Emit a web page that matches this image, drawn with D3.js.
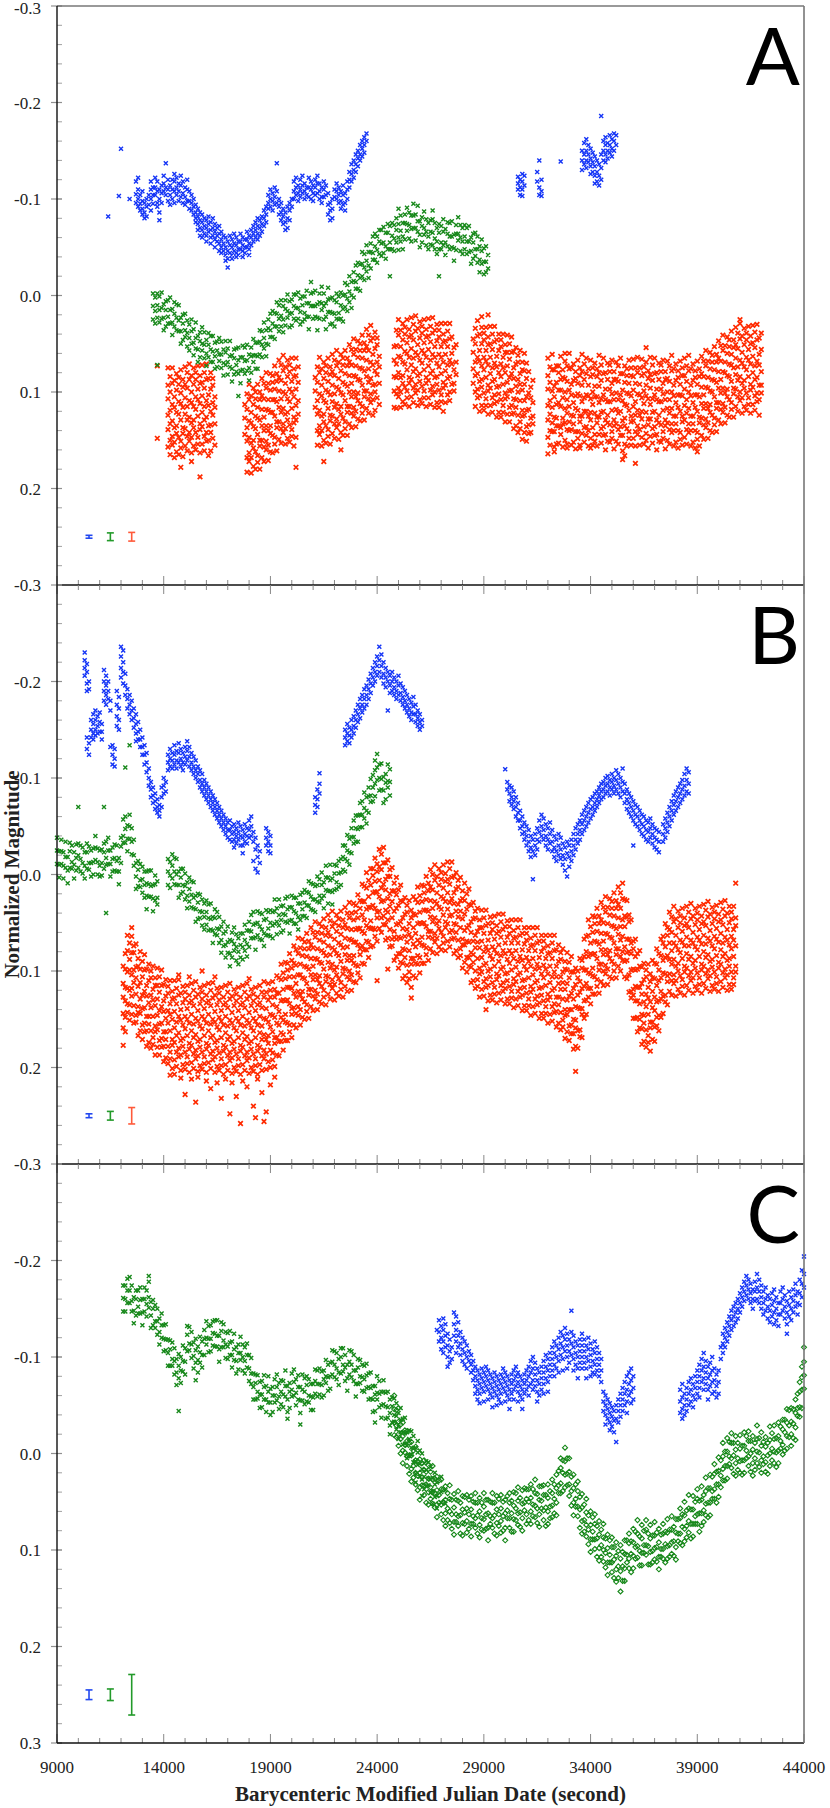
<!DOCTYPE html>
<html>
<head>
<meta charset="utf-8">
<script src="https://cdn.jsdelivr.net/npm/d3@7"></script>
<style>
  body { margin: 0; background: #fff; }
  svg { display: block; }
</style>
</head>
<body>
<div id="chart-area"></div>
<script>
// axis ticks
const timeTicks = [9000, 14000, 19000, 24000, 29000, 34000, 39000, 44000];
const magTicks = [-0.3, -0.2, -0.1, 0.0, 0.1, 0.2, 0.3];
const panelLetters = ["A", "B", "C"];

// every row: [time / 100 s, magnitude * 1000, magnitude * 1000, ...]
const blueA = [[114,-82],[119,-103],[120,-152],[124,-100],
[127,-118,-105,-96],[128,-122,-110,-100,-92],[129,-104,-95,-88],[130,-108,-98,-90,-84],[131,-96,-86,-80],[132,-100,-92,-82],[133,-104,-94],[134,-118,-110,-100,-88],[135,-112,-104,-95],
[136,-122,-112,-104],[137,-118,-108,-96,-92],[138,-110,-100,-86,-78],[139,-114,-106,-96],[140,-124,-116,-108],[141,-137,-112,-104],[142,-120,-110,-98],[143,-114,-104,-94],
[144,-120,-110,-100],[145,-126,-118,-108,-96],[146,-122,-112,-104],[147,-116,-108,-98],[148,-124,-114,-102],[149,-118,-106,-96],[150,-112,-102,-94],[151,-120,-110,-98],[152,-108,-98,-90],[153,-104,-96,-88],[154,-100,-92,-84],
[155,-94,-86,-80,-76],[156,-90,-82,-74,-68],[157,-86,-78,-70,-62],[158,-84,-76,-68,-60],[159,-80,-72,-64],[160,-78,-70,-62,-56],[161,-82,-74,-66],[162,-76,-68,-60,-54],[163,-80,-70,-62],[164,-74,-66,-58,-50],[165,-70,-62,-56],[166,-72,-64,-54,-46],[167,-66,-58,-50,-44],[168,-62,-54,-46],
[169,-60,-50,-42,-36],[170,-56,-46,-38,-29],[171,-62,-52,-44],[172,-58,-50,-42,-38],[173,-64,-54,-46],[174,-60,-52,-44,-40],[175,-56,-48,-42],[176,-64,-56,-48],[177,-60,-52,-46,-40],[178,-58,-50,-44],[179,-66,-58,-50],[180,-62,-54,-48,-42],[181,-68,-60,-52],[182,-72,-64,-56],
[183,-76,-68,-60],[184,-80,-72,-64,-58],[185,-78,-70,-62],[186,-82,-74,-66],[187,-88,-80,-72],[188,-92,-84,-76],
[189,-104,-96,-90],[190,-110,-100,-92],[191,-106,-98,-88],[192,-112,-102,-94],[193,-137,-108,-96],[194,-100,-92,-84],[195,-96,-86,-78],
[196,-90,-82,-74],[197,-86,-76,-68],[198,-92,-80,-70],[199,-96,-88,-78],[200,-100,-92],
[201,-118,-108,-100],[202,-122,-112,-104],[203,-114,-106,-98],[204,-120,-110,-102],[205,-124,-114,-106],[206,-116,-108,-100],[207,-112,-104],[208,-122,-112,-102],[209,-118,-110,-100],[210,-114,-106,-98],[211,-120,-112,-104],[212,-124,-116,-106],[213,-116,-108,-100],[214,-112,-102,-96],[215,-118,-110,-102],[216,-114,-104],[217,-106,-94,-84],[218,-96,-88,-78],[219,-100,-90,-80],[220,-110,-102],[221,-116,-108,-100],[222,-112,-104,-96],
[223,-108,-98,-90],[224,-114,-104,-94],[225,-106,-96,-88],[226,-118,-110,-100],
[227,-128,-120,-112],[228,-136,-126,-118],[229,-140,-130,-122],[230,-146,-136,-128],[231,-150,-142,-134],[232,-156,-146,-140],[233,-160,-152,-144],[234,-164,-156,-148],[235,-168,-160],
[306,-123,-116,-110],[307,-120,-112,-104],[308,-126,-118,-110,-103],[309,-124,-114],
[315,-128,-118],[316,-140,-112,-104],[317,-120,-108,-103],[326,-139],
[336,-150,-140,-130],[337,-158,-146,-136],[338,-162,-150,-140,-132],[339,-156,-146,-138],[340,-152,-142,-134,-126],[341,-148,-138,-128],[342,-144,-134,-124,-116],[343,-140,-128,-118],[344,-136,-124,-114],[345,-186,-146,-132,-120],[346,-160,-150,-140],[347,-164,-156,-146,-138],[348,-158,-150,-142],[349,-166,-156,-148],[350,-162,-152,-144],[351,-168,-160,-150],[352,-166,-156]];

const greenA = [[135,-2,11,25],[136,2,16,29],[137,-2,10,23,72],[138,1,15,28],[139,-3,13,24],[140,9,23,36],[141,6,15,32],[142,5,22,29],[143,2,15,29],[144,14,28,41],[145,7,19,32],[146,9,23,36],[147,10,26,37],[148,23,37,50],[149,20,29,46],[150,19,36,43],
[151,26,39,53],[152,30,44,57],[153,25,37,50],[154,35,49,62],[155,28,44,55],[156,42,56,69],[157,38,47,64],[158,33,50,57],[159,38,51,65],[160,46,60,73],[161,39,51,64],[162,42,56,69],[163,42,58,69],[164,49,63,76],[165,48,57,74],[166,44,61,68],[167,48,61,75],
[168,56,70,83],[169,47,59,72],[170,55,69,82],[171,47,63,74],[172,62,76,89],[173,56,65,82],[174,55,72,79],[175,54,67,81,104],[176,64,78,91],[177,52,64,77],[178,54,68,81],[179,51,67,78],[180,61,75,88],[181,54,63,80],[182,45,62,69],[183,49,62,76],[184,49,63,76],[185,36,48,61],
[186,37,51,64],[187,28,44,55],[188,36,50,63],[189,25,34,51],[190,19,36,43],[191,16,29,43],[192,18,32,45],[193,7,19,32],[194,10,24,37],[195,5,21,32],[196,11,25,38],[197,5,14,31],[198,-1,16,23],[199,6,19,33],[200,4,18,31],[201,-1,11,24],[202,-1,13,26],
[203,-3,13,24],[204,3,17,30],[205,1,10,27],[206,1,18,25],[207,-5,8,22],[208,8,22,35],[209,-14,-2,11],[210,-3,11,24],[211,-5,11,22],[212,9,23,36],[213,-2,7,24],[214,-9,8,15],[215,-2,11,25],[216,8,22,35],[217,-8,4,17],[218,3,17,30],[219,2,18,29],[220,5,19,32],[221,-2,7,24],[222,1,18,25],[223,-3,10,24],[224,0,14,27],
[225,-13,-1,12],[226,-11,3,16],[227,-20,-4,7],[228,-14,0,13],[229,-24,-15,2],[230,-31,-14,-7],[231,-34,-21,-7],[232,-32,-18,-5],[233,-45,-33,-20],[234,-43,-29,-16],[235,-52,-36,-25],[236,-45,-31,-18],[237,-54,-45,-28],
[238,-61,-44,-37],[239,-64,-51,-37],[240,-61,-47,-34],[241,-68,-56,-43],[242,-68,-54,-41],[243,-71,-55,-44],[244,-65,-51,-38],[245,-74,-65,-48],[246,-72,-55,-48,-20],[247,-75,-62,-48],[248,-73,-59,-46],[249,-80,-68,-55],[250,-90,-74,-60,-47],[251,-83,-67,-56],[252,-75,-61,-48],
[253,-84,-75,-58],[254,-91,-74,-67],[255,-86,-73,-59],[256,-83,-69,-56],[257,-95,-83,-70],[258,-84,-70,-57],[259,-93,-77,-66],[260,-77,-63,-50],[261,-81,-72,-55],[262,-87,-70,-63],
[263,-79,-66,-52],[264,-75,-61,-48],[265,-78,-66,-53],[266,-88,-79,-65,-52],[267,-75,-59,-48],[268,-70,-56,-43],[269,-74,-65,-48,-20],[270,-72,-55,-48],[271,-79,-66,-52],[272,-69,-55,-42],[273,-76,-64,-51],[274,-75,-61,-48],[275,-77,-61,-50],[276,-63,-49,-36],[277,-73,-64,-47],[278,-81,-64,-57],[279,-73,-60,-46],[280,-70,-56,-43],[281,-73,-61,-48],[282,-70,-56,-43],
[283,-72,-56,-45],[284,-60,-46,-33],[285,-64,-55,-38],[286,-65,-48,-41],[287,-61,-48,-34],[288,-51,-37,-24],[289,-58,-46,-33],[290,-49,-35,-22],[291,-51,-35,-24],[292,-42,-28]];

const redA = [[137,73,148],
[142,75,93,107,124,139,157],[143,84,100,119,133,150,165],[144,75,91,113,130,146,155],[145,88,105,116,137,152,168],[146,81,98,121,135,143,162],[147,85,92,110,123,147,165],[148,77,101,112,129,151,158,178],[149,87,95,116,137,143,167],[150,74,92,106,123,138,156],[151,80,96,115,129,146,161],[152,71,87,109,126,142,151],[153,83,100,111,132,147,163,172],[154,75,92,115,129,137,156],[155,80,87,105,118,142,160],[156,73,97,108,125,147,154],[157,83,91,112,133,139,163,188],[158,72,90,104,121,136,154],[159,80,96,115,129,146,161],[160,71,87,109,126,142,151],[161,86,103,114,135,150,166],[162,80,97,120,134,142,161],[163,86,93,111,124,148],[164,105,116,133,155],
[178,113,127,144],[179,102,118,137,151,168,183],[180,92,108,130,147,163,172],[181,104,121,132,153,168,184],[182,96,113,136,150,158,177],[183,100,107,125,138,162,180],[184,92,116,127,144,166,173],[185,100,108,129,150,156,180],[186,86,104,118,135,150,168],[187,91,107,126,140,157,172],[188,80,96,118,135,151,160],[189,91,108,119,140,155,171],[190,81,98,121,135,143,162],[191,83,90,108,121,145,163],[192,73,97,108,125,147,154],[193,81,89,110,131,137,161],[194,67,85,99,116,131,149],[195,72,88,107,121,138,153],[196,62,78,100,117,133,142],[197,74,91,102,123,138,154],[198,67,84,107,121,129,148],[199,72,79,97,110,134,152],[200,65,89,100,117,139,146],[201,76,84,105,126,132,156],[202,65,83,97,114,129,147,178],[203,74,90,109,123],
[211,85,99,116],[212,74,90,109,123,140,155],[213,64,80,102,119,135,144],[214,76,93,104,125,140,156],[215,69,86,109,123,131,150,172],[216,73,80,98,111,135,153],[217,65,89,100,117,139,146],[218,74,82,103,124,130,154],[219,61,79,93,110,125,143],[220,67,83,102,116,133,148],[221,57,73,95,112,128,137],[222,69,86,97,118,133,149],[223,61,78,101,115,123,142,160],[224,65,72,90,103,127,145],[225,57,81,92,109,131,138],[226,65,73,94,115,121,145],[227,51,69,83,100,115,133],[228,56,72,91,105,122,137],[229,45,61,83,100,116,125],[230,56,73,84,105,120,136],[231,47,64,87,101,109,128],[232,50,57,75,88,112,130],[233,41,65,76,93,115,122],[234,49,57,78,99,105,129],[235,35,53,67,84,99,117],[236,41,57,76,90,107,122],[237,31,47,69,86,102,111],[238,44,61,72,93,108,124],[239,38,55,78,92,100,119],[240,44,51,69,82,106],[241,63,74,91,113],
[248,53,67,84,99,116],[249,36,52,71,85,102,117],[250,25,41,63,80,96,105],[251,36,53,64,85,100,116],[252,29,46,69,83,91,110],[253,33,40,58,71,95,113],[254,25,49,60,77,99,106],[255,35,43,64,85,91,115],[256,23,41,55,72,87,105],[257,30,46,65,79,96,111],[258,21,37,59,76,92,101],[259,34,51,62,83,98,114],[260,27,44,67,81,89,108],[261,32,39,57,70,94,112],[262,25,49,60,77,99,106],[263,35,43,64,85,91,115],[264,24,42,56,73,88,106],[265,32,48,67,81,98,113],[266,23,39,61,78,94,103],[267,36,53,64,85,100,116],[268,30,47,70,84,92,111],[269,36,43,61,74,98,116],[270,29,53,64,81,103,110],[271,40,48,69,90,96,120],[272,29,47,61,78,93,111],[273,37,53,72,86,103],[274,29,45,67,84,100,109],[275,43,60,71,92],[276,54,77,91,99],[277,51,69,82],
[285,45,59,76,91],[286,34,50,69,83,100,115],[287,26,42,64,81,97,106],[288,40,57,68,89,104,120],[289,22,33,50,73,87,95,114],[290,39,46,64,77,101,119],[291,33,57,68,85,107,114],[292,20,43,51,72,93,99,123],[293,32,50,64,81,96,114],[294,40,56,75,89,106,121],[295,32,48,70,87,103,112],[296,46,63,74,95,110,126],[297,40,57,80,94,102,121],[298,46,53,71,84,108,126],[299,40,64,75,92,114,121],[300,51,59,80,101,107,131],[301,41,59,73,90,105,123],[302,50,66,85,99,116,131],[303,43,59,81,98,114,123],[304,58,75,86,107,122,138],[305,54,71,94,108,116,135],[306,62,69,87,100,124,142],[307,57,81,92,109,131,138],[308,69,77,98,119,125,149],[309,60,78,92,109,124,142],[310,70,86,105,119,136,151],[311,79,101,118,134,143],[312,95,106,127,142],[313,88,111,125,133],
[320,65,83,97,114,129,147,164],[321,74,90,109,123,140,155],[322,61,77,99,116,132,141],[323,77,94,105,126,141,157,162],[324,73,90,113,127,135,154],[325,73,80,98,111,135,153],[326,63,87,98,115,137,144],[327,77,85,106,127,133,157],[328,60,68,86,100,117,132,150],[329,73,89,108,122,139,154,158],[330,60,76,98,115,131,140],[331,75,92,103,124,139,155],[332,71,88,111,125,133,152],[333,79,86,104,117,141,159],[334,67,91,102,119,141,148],[335,75,83,104,125,131,155,158],[336,61,79,93,110,125,143],[337,71,87,106,120,137,152],[338,65,81,103,120,136,145],[339,76,93,104,125,140,156],[340,67,84,107,121,129,148,158],[341,75,82,100,113,137,155],[342,70,94,105,122,144,151],[343,76,84,105,126,132,156],[344,62,80,94,111,126,144],[345,72,88,107,121,138,153],[346,65,81,103,120,136,145],[347,80,97,108,129,144,160],[348,70,87,110,124,132,151],[349,72,79,97,110,134,152],[350,67,91,102,119,141,148],[351,79,87,108,129,135,159],[352,69,87,101,118,133,151],[353,73,89,108,122,139,154],[354,65,81,103,120,136,145],
[355,81,98,109,130,145,161,170],[356,73,90,113,127,135,154,166],[357,76,83,101,114,138,156],[358,67,91,102,119,141,148],[359,75,83,104,125,131,155],[360,66,84,98,115,130,148],[361,75,91,110,124,141,156,174],[362,64,80,102,119,135,144],[363,75,92,103,124,139,155],[364,66,83,106,120,128,147],[365,74,81,99,112,136,154],[366,54,69,93,104,121,143,150],[367,78,86,107,128,134,158],[368,64,82,96,113,128,146],[369,72,88,107,121,138,153],[370,65,81,103,120,136,145],[371,80,97,108,129,144,160],[372,70,87,110,124,132,151],[373,72,79,97,110,134,152],[374,67,91,102,119,141,148],[375,79,87,108,129,135,159],[376,68,86,100,117,132,150],[377,73,89,108,122,139,154],[378,62,78,100,117,133,142],[379,76,93,104,125,140,156],[380,71,88,111,125,133,152],[381,78,85,103,116,140,158],[382,68,92,103,120,142,149],[383,75,83,104,125,131,155],[384,65,83,97,114,129,147],[385,73,89,108,122,139,154],[386,62,78,100,117,133,142],[387,76,93,104,125,140,156],[388,71,88,111,125,133,152],[389,78,85,103,116,140,158],[390,68,92,103,120,142,149,162],[391,76,84,105,126,132,156],
[392,63,81,95,112,127,145],[393,68,84,103,117,134,149],[394,57,73,95,112,128,137],[395,68,85,96,117,132,148],[396,59,76,99,113,121,140],[397,62,69,87,100,124,142],[398,53,77,88,105,127,134],[399,61,69,90,111,117,141],[400,47,65,79,96,111,129],[401,52,68,87,101,118,133],[402,41,57,79,96,112,121],[403,52,69,80,101,116,132],[404,43,60,83,97,105,124],[405,46,53,71,84,108,126],[406,37,61,72,89,111,118],[407,46,54,75,96,102,126],[408,33,51,65,82,97,115],[409,39,55,74,88,105,120],[410,25,29,45,67,84,100,109],[411,42,59,70,91,106,122],[412,34,51,74,88,96,115],[413,39,46,64,77,101,119],[414,32,56,67,84,106,113],[415,42,50,71,92,98,122],[416,31,49,63,80,95,113],[417,38,54,73,87,104,119],[418,30,46,68,85,101,110],[419,44,61,72,93,108,124],[420,39,56,79,93,101]];

const blueB = [[103,-230,-222,-214,-206],[104,-218,-210,-198,-190,-142,-130],[105,-200,-192,-136,-124],[106,-160,-150,-142],[107,-166,-156,-146,-140],[108,-170,-160,-150,-144],[109,-164,-154,-146],[110,-168,-158,-148],[111,-156,-148,-140],[112,-212,-200,-190,-180],[113,-206,-196,-186,-176],[114,-200,-190,-182],[115,-180,-170,-132],[116,-134,-124,-114],[117,-130,-120,-112],[118,-190,-176,-164,-154],[119,-184,-172,-160,-150],[120,-236,-226,-214,-204],[121,-232,-220,-210,-198],[122,-208,-196,-186],[123,-192,-182,-172],[124,-186,-176,-166],[125,-180,-170,-160],[126,-172,-162,-152],[127,-166,-156,-146,-138],[128,-158,-148,-140],[129,-150,-140,-132],[130,-142,-132,-124],[131,-134,-124,-114],[132,-126,-116,-106],[133,-110,-100,-92],[134,-96,-88,-80],[135,-90,-82,-74],[136,-84,-76,-68],[137,-78,-70,-64],[138,-72,-66,-60],[139,-90,-80,-70],[140,-100,-92,-84],[141,-96,-86],
[142,-124,-116,-108],[143,-130,-120,-112],[144,-126,-118,-110],[145,-134,-124,-114],[146,-128,-118,-110],[147,-136,-126,-116],[148,-130,-120,-112],[149,-126,-116,-108],[150,-132,-122,-114],[151,-138,-128,-118],[152,-132,-122,-112],[153,-126,-116,-108],[154,-122,-112,-104],[155,-118,-108,-100],
[156,-112,-104,-96],[157,-108,-98,-90],[158,-104,-94,-86],[159,-98,-90,-82],[160,-94,-86,-78],[161,-90,-82,-74],[162,-86,-78,-70],[163,-82,-74,-66],[164,-78,-70,-62],[165,-74,-66,-58],[166,-70,-62,-54],[167,-66,-58,-50],[168,-62,-54,-46],
[169,-58,-50,-42],[170,-54,-46,-38],[171,-56,-46,-36],[172,-50,-42,-34],[173,-52,-44,-36,-28],[174,-48,-40,-32],[175,-54,-44,-36],[176,-50,-40,-30],[177,-46,-38,-30,-22],[178,-52,-42,-34],[179,-48,-40,-32],[180,-56,-46,-38],[181,-60,-50,-40],[182,-44,-34,-14],[183,-38,-26,-6],[184,-30,-18,-2],[185,-24,-12],
[188,-48,-38,-30],[189,-44,-34,-24],[190,-40,-30,-22],
[211,-80,-72,-64],[212,-88,-78,-70],[213,-105,-94,-84],
[225,-150,-142,-134],[226,-156,-146,-138],[227,-152,-144,-136],[228,-160,-150,-142],[229,-164,-154,-146],[230,-170,-160,-152],
[231,-176,-166,-158],[232,-182,-172,-162],[233,-186,-176,-168],[234,-192,-182,-172],[235,-196,-186,-176],[236,-202,-192,-182],[237,-208,-198,-188],
[238,-214,-204,-196],[239,-220,-210,-200],[240,-226,-216,-206],[241,-236,-222,-210],[242,-228,-216,-204],[243,-220,-208,-198],[244,-214,-204,-194],[245,-210,-200,-170],
[246,-206,-196,-188],[247,-210,-200,-190],[248,-204,-194,-186],[249,-200,-190,-182],[250,-206,-196,-186],[251,-198,-188,-180],[252,-194,-184,-176],[253,-190,-180,-172],[254,-186,-176,-168],
[255,-182,-172,-164],[256,-178,-168,-160],[257,-184,-174,-166],[258,-176,-166,-158],[259,-170,-162,-154],[260,-166,-158,-150],[261,-160,-154],
[300,-109],[301,-96,-88],[302,-92,-84,-76],[303,-90,-80,-72],[304,-86,-76,-68],[305,-80,-70,-60],[306,-74,-64,-56],[307,-66,-56,-48],[308,-60,-50,-42],[309,-54,-44,-36],[310,-50,-40,-30],[311,-46,-34,-24],[312,-40,-28,-18],[313,-36,-24,5],[314,-42,-30,-20],[315,-48,-36,-26],[316,-56,-44,-34],[317,-62,-50,-40],[318,-58,-46,-36],[319,-52,-40,-30],[320,-48,-36,-26],[321,-54,-42,-32],
[322,-46,-34,-24],[323,-40,-28,-18],[324,-36,-24,-14],[325,-42,-30,-20],[326,-38,-26,-16],[327,-32,-20,-10],[328,-28,-16,-4],[329,-34,-22,2],[330,-30,-18,-8],[331,-36,-24,-14],[332,-42,-30,-20],[333,-48,-36,-26],[334,-52,-42,-32],[335,-56,-46,-36],
[336,-62,-52,-42],[337,-66,-56,-46],[338,-70,-60,-50],[339,-74,-64,-54],[340,-78,-68,-58],[341,-80,-70,-62],[342,-84,-74,-66],[343,-86,-78,-70],[344,-90,-82,-74],[345,-94,-86,-78],[346,-96,-88,-80],[347,-100,-92,-84],[348,-102,-94,-86],[349,-98,-90,-82],[350,-104,-96,-88],[351,-100,-92,-84],[352,-108,-98,-88],[353,-104,-94,-84],[354,-100,-90,-80],[355,-110,-96,-86],
[356,-94,-84,-74],[357,-88,-78,-68],[358,-84,-74,-64],[359,-80,-70,-60],[360,-76,-66,-56,-30],[361,-72,-62,-52],[362,-70,-60,-50],[363,-66,-56,-46],[364,-62,-52,-42],[365,-60,-50,-40],[366,-56,-46,-36],[367,-54,-44,-34],[368,-58,-48,-38],[369,-52,-42,-32],[370,-48,-38,-28],[371,-46,-36,-26],[372,-44,-34,-23],
[374,-52,-42,-34],[375,-58,-48,-38],[376,-64,-54,-44],[377,-70,-60,-50],[378,-76,-66,-56],[379,-82,-72,-62],[380,-86,-76,-66],[381,-90,-80,-70],[382,-94,-84,-74],[383,-98,-88,-78],[384,-104,-92,-82],[385,-110,-98,-86],[386,-106,-94,-84]];

const greenB = [[90,-38,-25,-11],[91,-24,-10,3],[92,-36,-24,-11],[93,-23,-9,4],[94,-34,-18,-7],[95,-18,-4,9],[96,-33,-24,-7],[97,-30,-13,-6],[98,-23,-10,4],[99,-31,-17,-4],[100,-70,-32,-20,-7],[101,-30,-16,-3],[102,-28,-12,-1],[103,-23,-9,4],[104,-32,-23,-6],[105,-29,-12,-5],[106,-25,-12,2],[107,-27,-13,0],[108,-40,-28,-15],[109,-27,-13,0],[110,-25,-9,2],[111,-26,-12,1],[112,-70,-32,-23,-6],[113,-34,-17,-10,40],[114,-38,-25,-11],[115,-25,-11,2],[116,-28,-16,-3],[117,-31,-17,-4],[118,-30,-14,-3],[119,-17,-3,10],[120,-38,-29,-12],
[121,-57,-40,-33],[122,-111,-60,-47,-33],[123,-51,-37,-24],[124,-134,-62,-50,-37],[125,-48,-34,-21],[126,-36,-20,-9],[127,-12,2,15],[128,-14,-5,12],[129,-11,6,13],[130,-8,5,19],[131,-3,11,24],[132,-3,9,22,36],[133,-4,10,23],[134,-4,12,23],[135,11,25,38],[136,1,10,27],[137,7,24,31],
[142,-16,-3,11],[143,-13,1,14],[144,-21,-9,4],[145,-17,-3,10],[146,-16,0,11],[147,-3,11,24],[148,-6,3,20],[149,-6,11,18],[150,-1,12,26],[151,8,22,35],[152,3,15,28],[153,7,21,34],[154,8,24,35],[155,22,36,49],
[156,20,29,46],[157,21,38,45],[158,26,39,53],[159,30,44,57],[160,27,39,52],[161,31,45,58],[162,30,46,57],[163,44,58,71],[164,36,45,62],[165,39,56,63],[166,44,57,71],[167,54,68,81],
[168,49,61,74],[169,59,73,86],[170,54,70,81],[171,68,82,95],[172,60,69,86],[173,55,72,79],[174,62,75,89],[175,66,80,93],[176,61,73,86],[177,61,75,88],[178,52,68,79],[179,58,72,85],
[180,49,58,75],[181,42,59,66],[182,39,52,66],[183,51,65,78],[184,38,50,63],[185,40,54,67],[186,41,57,68],[187,47,61,74],[188,37,46,63],[189,39,56,63],[190,37,50,64],[191,39,53,66],[192,26,38,51],
[193,35,49,62],[194,26,42,53],[195,33,47,60],[196,32,41,58],[197,25,42,49],[198,23,36,50],[199,34,48,61],[200,22,34,47],[201,24,38,51],[202,24,40,51],[203,30,44,57],[204,21,30,47],[205,19,36,43],[206,16,29,43],[207,18,32,45],
[208,7,19,32],[209,9,23,36],[210,10,26,37],[211,12,26,39],[212,2,11,28],[213,5,22,29],[214,-2,11,25],[215,8,22,35],[216,-9,3,16],[217,3,17,30],[218,-10,6,17],[219,4,18,31],[220,-10,-1,16],[221,-9,8,15],[222,-14,-1,13],
[223,-16,-2,11],[224,-30,-18,-5],[225,-30,-16,-3],[226,-41,-25,-14],[227,-37,-23,-10],[228,-48,-39,-22],[229,-56,-39,-32],[230,-61,-48,-34],[231,-61,-47,-34],[232,-74,-62,-49],
[233,-76,-62,-49],[234,-85,-69,-58],[235,-80,-66,-53],[236,-90,-81,-64],[237,-99,-82,-75],[238,-103,-90,-76],[239,-118,-108,-94,-81],[240,-125,-111,-98],[241,-114,-100,-87],[242,-115,-99,-88],[243,-101,-87,-74],[244,-104,-95,-78],[245,-114,-97,-90],[246,-109,-96,-82]];

const redB = [[121,95,113,127,144,159,177],[122,82,98,117,131,148,163],[123,63,79,101,118,134,143],[124,71,88,99,120,135,151],[125,55,64,81,104,118,126,145],[126,74,81,99,112,136,154],[127,72,96,107,124,146,153],[128,87,95,116,137,143,167],[129,80,98,112,129,144,162],[130,90,106,125,139,156,171],
[131,83,99,121,138,154,163],[132,98,115,126,147,162,178],[133,93,110,133,147,155,174],[134,100,107,125,138,162,180],[135,95,119,130,147,169,176],[136,107,115,136,157,163,187],[137,97,115,129,146,161,179],[138,106,122,141,155,172,187],[139,99,115,137,154,170,179],[140,114,131,142,163,178,194],
[141,109,126,149,163,171,190],[142,116,123,141,154,178,196],[143,110,134,145,162,184,191,208],[144,121,129,150,171,177,201],[145,110,128,142,159,174,192,207],[146,118,134,153,167,184,199],[147,104,109,125,147,164,180,189],[148,123,140,151,172,187,203,211],[149,116,133,156,170,178,197],[150,122,129,147,160,184,202,228],
[151,115,139,150,167,189,196],[152,106,125,133,154,175,181,205],[153,113,131,145,162,177,195,212],[154,120,136,155,169,186,201],[155,111,127,149,166,182,191,236],[156,124,141,152,173,188,204,210],[157,117,134,157,171,179,198],[158,100,122,129,147,160,184,202],[159,115,139,150,167,189,196],[160,125,133,154,175,181,205,214],
[161,113,131,145,162,177,195],[162,120,136,155,169,186,201,222],[163,112,128,150,167,183,192],[164,106,125,142,153,174,189,205],[165,118,135,158,172,180,199,216],[166,123,130,148,161,185,203],[167,117,141,152,169,191,198,232],[168,127,135,156,177,183,207],[169,115,133,147,164,179,197,212],[170,122,138,157,171,188,203],
[171,113,129,151,168,184,193,248],[172,126,143,154,175,190,206,216],[173,119,136,159,173,181,200],[174,124,131,149,162,186,204,230],[175,117,141,152,169,191,198],[176,127,135,156,177,183,207,258],[177,115,133,147,164,179,197,214],[178,122,138,157,171,188,203],[179,113,129,151,168,184,193,220],[180,108,126,143,154,175,190,206],
[181,119,136,159,173,181,200],[182,124,131,149,162,186,204,240],[183,117,141,152,169,191,198,252],[184,127,135,156,177,183,207,212],[185,115,133,147,164,179,197],[186,122,138,157,171,188,203,226],[187,111,127,149,166,182,191,256],[188,122,139,150,171,186,202,246],[189,113,130,153,167,175,194],[190,120,127,145,158,182,200,218],
[191,111,135,146,163,185,192],[192,119,127,148,169,175,199,210],[193,105,123,137,154,169,187],[194,107,123,142,156,173,188],[195,93,109,131,148,164,173],[196,102,119,130,151,166,182],[197,91,108,131,145,153,172],[198,92,99,117,130,154,172],[199,82,106,117,134,156,163],[200,89,97,118,139,145,169],
[201,74,92,106,123,138,156],[202,78,94,113,127,144,159],[203,66,82,104,121,137,146],[204,76,93,104,125,140,156],[205,67,84,107,121,129,148],[206,70,77,95,108,132,150],[207,61,85,96,113,135,142],[208,69,77,98,119,125,149],[209,55,73,87,104,119,137],[210,60,76,95,109,126,141],
[211,49,65,87,104,120,129],[212,60,77,88,109,124,140],[213,51,68,91,105,113,132],[214,54,61,79,92,116,134],[215,46,70,81,98,120,127],[216,55,63,84,105,111,135],[217,42,60,74,91,106,124],[218,48,64,83,97,114,129],[219,38,54,76,93,109,118],[220,50,67,78,99,114,130],
[221,42,59,82,96,104,123],[222,46,53,71,84,108,126],[223,38,62,73,90,112,119],[224,47,55,76,97,103,127],[225,34,52,66,83,98,116],[226,40,56,75,89,106,121],[227,29,45,67,84,100,109],[228,40,57,68,89,104,120],[229,30,47,70,84,92,111],[230,32,39,57,70,94,112],
[231,21,45,56,73,95,102],[232,27,35,56,77,83,107],[233,10,28,42,59,74,92],[234,12,28,47,61,78,93],[235,-2,14,36,53,69,78],[236,6,23,34,55,70,86],[237,-6,11,34,48,56,75],[238,-6,1,19,32,56,74],[239,-17,7,18,35,57,64],[240,-11,-3,18,39,45,69,110],
[241,-26,-8,6,23,38,56],[242,-21,-5,14,28,45,60],[243,-28,-12,10,27,43,52],[244,-12,5,16,37,52,68],[245,-15,2,25,39,47,66,98],[246,-5,2,20,33,57,75],[247,-7,17,28,45,67,74],[248,9,17,38,59,65,89],[249,3,21,35,52,67,85],[250,16,32,51,65,82,97],
[251,11,27,49,66,82,91],[252,28,45,56,77,92,108],[253,24,41,64,78,86,105],[254,32,39,57,70,94,112],[255,27,51,62,79,101,108],[256,37,45,66,87,93,117,128],[257,23,41,55,72,87,105],[258,26,42,61,75,92,107],[259,13,29,51,68,84,93],[260,22,39,50,71,86,102],
[261,11,28,51,65,73,92],[262,12,19,37,50,74,92],[263,2,26,37,54,76,83],[264,9,17,38,59,65,89],[265,-5,13,27,44,59,77],[266,0,16,35,49,66,81],[267,-10,6,28,45,61,70],[268,2,19,30,51,66,82],[269,-6,11,34,48,56,75],[270,-2,5,23,36,60,78],
[271,-10,14,25,42,64,71],[272,-1,7,28,49,55,79],[273,-13,5,19,36,51,69],[274,-6,10,29,43,60,75],[275,-13,3,25,42,58,67],[276,2,19,30,51,66,82],[277,-2,15,38,52,60,79],[278,6,13,31,44,68,86],[279,3,27,38,55,77,84],[280,17,25,46,67,73,97],
[281,9,27,41,58,73,91],[282,20,36,55,69,86,101],[283,15,31,53,70,86,95],[284,32,49,60,81,96,112],[285,29,46,69,83,91,110],[286,38,45,63,76,100,118],[287,35,59,70,87,109,116],[288,47,55,76,97,103,127],[289,37,55,69,86,101,119],[290,45,61,80,94,111,126],
[291,37,53,75,92,108,117,140],[292,51,68,79,100,115,131],[293,44,61,84,98,106,125],[294,50,57,75,88,112,130],[295,43,67,78,95,117,124],[296,53,61,82,103,109,133],[297,41,59,73,90,105,123],[298,49,65,84,98,115,130],[299,41,57,79,96,112,121],[300,54,71,82,103,118,134],
[301,48,65,88,102,110,129],[302,54,61,79,92,116,134],[303,47,71,82,99,121,128],[304,58,66,87,108,114,138],[305,47,65,79,96,111,129],[306,55,71,90,104,121,136],[307,47,63,85,102,118,127],[308,61,78,89,110,125,141],[309,55,72,95,109,117,136],[310,61,68,86,99,123,141],
[311,55,79,90,107,129,136],[312,66,74,95,116,122,146],[313,55,73,87,104,119,137],[314,63,79,98,112,129,144],[315,55,71,93,110,126,135],[316,69,86,97,118,133,149],[317,63,80,103,117,125,144],[318,69,76,94,107,131,149],[319,63,87,98,115,137,144],[320,74,82,103,124,130,154],
[321,63,81,95,112,127,145],[322,71,87,106,120,137,152],[323,63,79,101,118,134,143],[324,78,95,106,127,142,158],[325,73,90,113,127,135,154],[326,81,88,106,119,143,161],[327,77,101,112,129,151,158],[328,90,98,119,140,146,170],[329,81,99,113,130,145,163],[330,91,107,126,140,157,172],
[331,85,101,123,140,156,165],[332,101,118,129,150,165,181],[333,97,114,137,151,159,178,204],[334,100,107,125,138,162,180],[335,87,111,122,139,161,168],[336,89,97,118,139,145,169],[337,67,85,99,116,131,149],[338,64,80,99,113,130,145],[339,47,63,85,102,118,127],[340,54,71,82,103,118,134],
[341,43,60,83,97,105,124],[342,44,51,69,82,106,124],[343,35,59,70,87,109,116],[344,43,51,72,93,99,123],[345,29,47,61,78,93,111],[346,34,50,69,83,100,115],[347,23,39,61,78,94,103],[348,34,51,62,83,98,114],[349,25,42,65,79,87,106],[350,28,35,53,66,90,108],
[351,19,43,54,71,93,100],[352,27,35,56,77,83,107],[353,13,31,45,62,77,95],[354,19,35,54,68,85,100],[355,9,25,47,64,80,89],[356,26,43,54,75,90,106],[357,27,44,67,81,89,108],[358,42,49,67,80,104,122],[359,47,71,82,99,121,128],[360,69,77,98,119,125,149],
[361,67,85,99,116,131,149],[362,82,98,117,131,148,163],[363,79,95,117,134,150,159],[364,96,113,124,145,160,176],[365,92,109,132,146,154,173],[366,99,106,124,137,161,179],[367,93,117,128,145,167,174],[368,103,111,132,153,159,183],[369,89,107,121,138,153,171],[370,92,108,127,141,158,173],
[371,77,93,115,132,148,157],[372,82,99,110,131,146,162],[373,67,84,107,121,129,148],[374,64,71,89,102,126,144],[375,51,75,86,103,125,132],[376,55,63,84,105,111,135],[377,39,57,71,88,103,121],[378,44,60,79,93,110,125],[379,33,49,71,88,104,113],[380,46,63,74,95,110,126],
[381,38,55,78,92,100,119],[382,43,50,68,81,105,123],[383,35,59,70,87,109,116],[384,45,53,74,95,101,125],[385,33,51,65,82,97,115],[386,39,55,74,88,105,120],[387,30,46,68,85,101,110],[388,43,60,71,92,107,123],[389,35,52,75,89,97,116],[390,40,47,65,78,102,120],
[391,33,57,68,85,107,114],[392,43,51,72,93,99,123],[393,31,49,63,80,95,113],[394,37,53,72,86,103,118],[395,28,44,66,83,99,108],[396,41,58,69,90,105,121],[397,34,51,74,88,96,115],[398,39,46,64,77,101,119],[399,32,56,67,84,106,113],[400,41,49,70,91,97,121],
[401,29,47,61,78,93,111],[402,36,52,71,85,102,117],[403,27,43,65,82,98,107],[404,40,57,68,89,104,120],[405,33,50,73,87,95,114],[406,39,46,64,77,101,119],[407,33,57,68,85,107,114],[408,9,45,53,74,95,101]];

const blueC = [[268,-128],[269,-138,-126,-116],[270,-132,-120,-108],[271,-140,-128,-116,-104],[272,-134,-122,-110],[273,-124,-112,-100,-90],[274,-118,-106,-94],[275,-110,-98],[276,-146,-134,-122],[277,-142,-128,-116,-104],[278,-136,-122,-110],[279,-126,-114,-102],[280,-120,-108,-96],[281,-116,-104,-92],[282,-112,-100,-88],[283,-106,-96],[284,-102,-92,-84],
[285,-96,-86,-76],[286,-90,-80,-70,-62],[287,-86,-76,-66,-56],[288,-82,-72,-62,-52],[289,-88,-78,-68],[290,-84,-74,-64,-54],[291,-90,-80,-70],[292,-86,-76,-66,-56],[293,-82,-72,-62],[294,-78,-68,-58,-48],[295,-84,-74,-64],[296,-80,-70,-60,-50],[297,-76,-66,-56],[298,-82,-72,-62,-52],[299,-88,-78,-68],[300,-84,-74,-64,-54],[301,-80,-70,-60],[302,-76,-66,-56,-46],[303,-82,-72,-62],[304,-86,-76,-66,-56],[305,-90,-80,-70],[306,-84,-74,-64,-54],[307,-80,-70,-60],[308,-76,-66,-56,-46],[309,-82,-72,-62],[310,-86,-76,-66],
[311,-90,-80,-70,-60],[312,-96,-84,-72],[313,-100,-88,-76,-66],[314,-94,-82,-70],[315,-88,-76,-64,-54],[316,-84,-72,-60],[317,-90,-78,-66],[318,-96,-84,-72,-62],[319,-102,-90,-78],[320,-98,-86,-74,-64],[321,-104,-92,-80],[322,-110,-98,-86],[323,-116,-104,-92,-80],[324,-112,-100,-88],
[325,-120,-108,-96,-84],[326,-126,-114,-102],[327,-122,-110,-98,-86],[328,-130,-118,-106],[329,-124,-112,-100,-88],[330,-118,-106,-94],[331,-148,-126,-114,-102],[332,-122,-110,-98,-86],[333,-116,-104,-92],[334,-112,-100,-88,-78],[335,-118,-106,-94],
[336,-124,-112,-100,-88],[337,-118,-106,-94],[338,-112,-100,-88,-78],[339,-120,-108,-96],[340,-114,-102,-90,-80],[341,-108,-96,-84],[342,-116,-104,-92,-82],[343,-110,-98,-86],[344,-104,-92,-80],[345,-98,-86,-74],
[346,-64,-54,-44],[347,-60,-50,-40,-30],[348,-56,-46,-36],[349,-52,-42,-32,-24],[350,-48,-38,-28],[351,-44,-34,-22],[352,-50,-36,-12],[353,-56,-44,-32],
[354,-62,-50,-38],[355,-68,-56,-44],[356,-74,-62,-50],[357,-80,-66,-54,-42],[358,-84,-72,-60],[359,-88,-76,-64,-52],[360,-80,-68,-56],
[382,-66,-54,-42],[383,-72,-58,-46,-36],[384,-62,-50,-40],[385,-68,-56,-44],[386,-74,-62,-50],[387,-78,-66,-54],[388,-72,-60,-48],
[389,-80,-68,-56],[390,-86,-74,-62],[391,-92,-80,-68,-58],[392,-98,-86,-74],[393,-104,-90,-78,-66],[394,-96,-84,-72],[395,-90,-78,-66,-56],[396,-94,-82,-70],[397,-100,-86,-74,-62],[398,-88,-76,-64],[399,-82,-70,-58],[400,-86,-74,-62],
[401,-110,-98],[402,-124,-114,-104],[403,-130,-120,-110],[404,-136,-126,-116],[405,-142,-132,-122],[406,-148,-138,-128],[407,-152,-142,-132],[408,-156,-146,-136],[409,-160,-150,-140],[410,-166,-156,-146],
[411,-172,-162,-152],[412,-178,-168,-158],[413,-184,-174,-164],[414,-180,-170,-160],[415,-176,-166,-156],[416,-170,-160,-150],[417,-178,-168,-158],[418,-186,-172,-160],[419,-180,-168,-156],[420,-174,-162,-150],
[421,-168,-156,-144],[422,-172,-160,-148],[423,-164,-152,-140],[424,-160,-148,-136],[425,-166,-154,-142],[426,-170,-158,-146,-134],[427,-162,-150,-138],[428,-156,-144,-132],[429,-168,-156,-144],[430,-172,-160,-148],[431,-164,-152,-140],[432,-158,-146,-134,-124],[433,-168,-154,-142],[434,-162,-150,-138],[435,-170,-158,-146],[436,-176,-164,-152],[437,-168,-156,-144],[438,-180,-166,-154],[439,-190,-176,-162],[440,-204,-186,-172]];

// green crosses in C (first night)
const greenC = [[121,-174,-161,-147],[122,-174,-160,-147],[123,-181,-169,-156],[124,-183,-169,-156],[125,-174,-158,-147],[126,-162,-148,-135],[127,-169,-160,-143],[128,-169,-152,-145],[129,-172,-159,-145],[130,-160,-146,-133],[131,-172,-160,-147],[132,-169,-155,-142],[133,-184,-178,-162,-151],[134,-157,-143,-130],[135,-159,-150,-133],
[136,-154,-137,-130],[137,-150,-137,-123],[138,-140,-126,-113],[139,-145,-133,-120],[140,-133,-119,-106],[141,-134,-118,-107],[142,-118,-104,-91],[143,-117,-108,-91],[144,-115,-98,-91],[145,-109,-96,-82],[146,-98,-84,-71],[147,-103,-91,-78,-44],[148,-100,-86,-73],[149,-112,-96,-85],[150,-109,-95,-82],
[151,-132,-123,-106],[152,-131,-114,-107],[153,-126,-113,-99],[154,-115,-101,-88],[155,-119,-107,-94,-76],[156,-111,-97,-84],[157,-121,-105,-94],[158,-116,-102,-89],[159,-128,-119,-102],[160,-137,-120,-113],[161,-132,-119,-105],[162,-133,-119,-106],[163,-137,-125,-112],[164,-138,-124,-111],[165,-138,-122,-111],[166,-122,-108,-95],[167,-136,-127,-110],[168,-134,-117,-110],[169,-126,-113,-99],[170,-125,-111,-98],[171,-127,-115,-102],[172,-116,-102,-89],
[173,-124,-108,-97],[174,-110,-96,-83],[175,-113,-104,-87],[176,-121,-104,-97],[177,-113,-100,-86],[178,-110,-96,-83],[179,-114,-102,-89],[180,-102,-88,-75],[181,-99,-83,-72],[182,-83,-69,-56],
[183,-82,-73,-56],[184,-81,-64,-57],[185,-74,-61,-47],[186,-75,-61,-48],[187,-81,-69,-56],[188,-70,-56,-43],[189,-80,-64,-53],[190,-67,-53,-40],[191,-69,-60,-43],[192,-77,-60,-53],[193,-82,-69,-55],[194,-73,-59,-46],[195,-76,-64,-51],
[196,-75,-61,-48],[197,-86,-70,-59],[198,-70,-56,-43,-36],[199,-73,-64,-47],[200,-83,-66,-59],[201,-87,-74,-60],[202,-77,-63,-50],[203,-81,-69,-56],[204,-69,-55,-42,-30],[205,-82,-66,-55],[206,-78,-64,-51],[207,-80,-71,-54],[208,-77,-60,-53],[209,-72,-59,-45],[210,-72,-58,-45],[211,-87,-75,-62],[212,-86,-72,-59],[213,-88,-72,-61],[214,-85,-71,-58],[215,-86,-77,-60],[216,-97,-80,-73],[217,-92,-79,-65],
[218,-94,-80,-67],[219,-107,-95,-82],[220,-106,-92,-79],[221,-104,-88,-77],[222,-98,-84,-71],[223,-109,-100,-83],[224,-109,-92,-85],[225,-102,-89,-75],[226,-92,-78,-65],[227,-107,-95,-82],[228,-106,-92,-79],[229,-102,-86,-75],[230,-86,-72,-59],[231,-98,-89,-72],[232,-97,-80,-73],[233,-92,-79,-65],[234,-91,-77,-64],[235,-93,-81,-68],[236,-83,-69,-56],
[237,-84,-68,-57],[238,-70,-56,-43],[239,-70,-61,-44,-32],[240,-80,-63,-56],[241,-75,-62,-48],[242,-64,-50,-37],[243,-76,-64,-51],[244,-63,-49,-36],[245,-64,-48,-37],[246,-56,-42,-29,-20],[247,-58,-49,-32],[248,-57,-40,-33],[249,-52,-39,-25],[250,-42,-28,-15],
[251,-47,-35,-22],[252,-36,-22,-9],[253,-37,-21,-10],[254,-22,-8,5],[255,-24,-15,2],[256,-23,-6,1],[257,-18,-5,9],[258,-6,8,21,30],[259,-13,-1,12],[260,-3,11,24],[261,0,16,27,44],[262,10,24,37],
[263,8,17,34],[264,9,26,33],[265,14,27,41],[266,25,39,52],[267,20,32,45],[268,30,44,57],[270,24,40,51],[272,38,52]];

// green diamonds in C (second night)
const greenC2 = [[248,-60,-46,-32,-19],[249,-45,-29,-17],[250,-47,-33,-20,-8],[251,-30,-15,0],[252,-32,-18,-3,10],[253,-24,-9,-1],[254,-23,-13,3,13],[255,-11,2,21],[256,-12,2,16,29],[257,-3,13,25],[258,-7,7,20,32],[259,8,23,38],[260,6,20,35,48],[261,10,25,33],[262,7,17,33,43],[263,19,32,51],[264,12,26,40,53],[265,19,35,47],[266,13,27,40,52],[267,26,41,56],[268,24,38,53,66],[269,28,43,51],[270,27,37,53,63],[271,37,50,69],[272,34,48,62,75],[273,41,57,69],[274,33,47,60,72],[275,48,63,78],[276,42,56,71,84],[277,48,63,71],[278,39,49,65,75],[279,51,64,83],[280,44,58,72,85],
[281,45,61,73],[282,43,57,70,82],[283,48,63,78],[284,44,58,73,86],[285,50,65,73],[286,41,51,67,77],[287,51,64,83],[288,46,60,74,87],[289,51,67,79],[290,41,55,68,80],[291,48,63,78],[292,48,62,77,90],[293,50,65,73],[294,41,51,67,77],[295,51,64,83],[296,44,58,72,85],[297,47,63,75],[298,43,57,70,82],[299,50,65,80],[300,48,62,77,90],
[301,44,59,67],[302,41,51,67,77],[303,49,62,81],[304,40,54,68,81],[305,41,57,69],[306,35,49,62,74],[307,46,61,76],[308,38,52,67,80],[309,36,51,59],[310,37,47,63,73],[311,37,50,69],[312,32,46,60,73],[313,37,53,65],[314,27,41,54,66],[315,42,57,72],[316,34,48,63,76],[317,34,49,57],[318,33,43,59,69],[319,43,56,75],[320,32,46,60,73],
[321,39,55,67],[322,27,41,54,66],[323,32,47,62],[324,22,36,51,64],[325,18,33,41],[326,5,15,31,41],[327,7,20,39],[328,-6,8,22,35],[329,5,21,33],[330,5,19,32,44],[331,24,39,54],[332,22,36,51,64],[333,32,47,55],[334,29,39,55,65],[335,45,58,77],[336,42,56,70,83],
[337,53,69,81],[338,47,61,74,86],[339,64,79,94],[340,60,74,89,102],[341,66,81,89],[342,63,73,89,99],[343,75,88,107],[344,70,84,98,111],[345,79,95,107],[346,73,87,100,112],[347,88,103,118],[348,84,98,113,126],
[349,90,105,113],[350,87,97,113,123],[351,97,110,129],[352,92,106,120,133],[353,101,117,129],[354,95,109,122,143],[355,102,117,132],[356,90,104,119,132],[357,90,105,113],[358,83,93,109,119],[359,91,104,123],[360,78,92,106,119],
[361,81,97,109],[362,69,83,96,108],[363,86,101,116],[364,74,88,103,116],[365,80,95,103],[366,69,79,95,105],[367,83,96,115],[368,74,88,102,115],[369,85,101,113],[370,71,85,98,110],[371,82,97,112],[372,78,92,107,120],[373,84,99,107],[374,73,83,99,109],[375,81,94,113],[376,68,82,96,109],[377,79,95,107],[378,65,79,92,104],[379,76,91,106],[380,68,82,97,110],[381,68,83,91],[382,57,67,83,93],[383,63,76,95],
[384,50,64,78,91],[385,59,75,87],[386,43,57,70,82],[387,58,73,88],[388,44,58,73,86],[389,50,65,73],[390,37,47,63,73],[391,49,62,81],[392,34,48,62,75],[393,43,59,71],[394,25,39,52,64],[395,36,51,66],[396,22,36,51,64],[397,24,39,47],[398,11,21,37,47],[399,19,32,51],[400,4,18,32,45],
[401,7,23,35],[402,-11,3,16,28],[403,-2,13,28],[404,-16,-2,13,26],[405,-12,3,11],[406,-21,-11,5,15],[407,-11,2,21],[408,-18,-4,10,23],[409,-11,5,17],[410,-19,-5,8,20],
[411,-8,7,22],[412,-22,-8,7,20],[413,-18,-3,5],[414,-23,-13,3,13],[415,-13,0,19],[416,-18,-4,10,23],[417,-11,5,17],[418,-29,-15,-2,10],[419,-16,-1,14],[420,-22,-8,7,20],[421,-12,3,11],[422,-17,-7,9,19],[423,-11,2,21],[424,-28,-14,0,13],[425,-21,-5,7],[426,-29,-15,-2,10],[427,-16,-1,14],[428,-32,-18,-3,10],[429,-28,-13,-5],[430,-35,-25,-9,1],
[431,-35,-22,-3],[432,-46,-32,-18,-5],[433,-45,-29,-17],[434,-47,-33,-20,-8],[435,-46,-31,-16],[436,-56,-42,-27,-14],[437,-62,-47,-39],[438,-74,-64,-48,-38],[439,-90,-79,-66,-47],[440,-110,-95,-81,-67]];

// typical error bars: [series, time (s), magnitude, half error]
const errA = [["blue", 10500, 0.25, 0.0015], ["green", 11500, 0.25, 0.004], ["red", 12500, 0.25, 0.0045]];
const errB = [["blue", 10500, 0.25, 0.002], ["green", 11500, 0.25, 0.0045], ["red", 12500, 0.25, 0.0085]];
const errC = [["blue", 10500, 0.25, 0.005], ["green", 11500, 0.25, 0.006], ["green", 12500, 0.25, 0.021]];

// ---------------------------------------------------------------
const W = 830, H = 1808;
const plotLeft = 57, plotRight = 804;
const panelH = 579;
const panelTops = [6, 585, 1164];

const colors = { blue: "#1434f6", green: "#17881a", red: "#ff2a00" };
const errColors = { blue: "#2248f0", green: "#239a2a", red: "#ff5a3a" };
const serif = "'Liberation Serif', 'Times New Roman', serif";

const panels = [
  { series: [["red", redA, "x"], ["green", greenA, "x"], ["blue", blueA, "x"]], errs: errA },
  { series: [["red", redB, "x"], ["green", greenB, "x"], ["blue", blueB, "x"]], errs: errB },
  { series: [["green", greenC2, "d"], ["green", greenC, "x"], ["blue", blueC, "x"]], errs: errC }
];

function toPoints(rows) {
  const pts = [];
  rows.forEach(r => {
    for (let k = 1; k < r.length; k++) pts.push([r[0] * 100, r[k] / 1000]);
  });
  return pts;
}

const svg = d3.select("#chart-area")
  .append("svg")
  .attr("width", W)
  .attr("height", H);

const x = d3.scaleLinear().domain([9000, 44000]).range([plotLeft, plotRight]);
const xMinor = x.ticks(35);

const markPath = {
  x: "M-2,-2L2,2M-2,2L2,-2",
  big: "M-2.3,-2.3L2.3,2.3M-2.3,2.3L2.3,-2.3",
  d: "M0,-2.5L2.5,0L0,2.5L-2.5,0Z"
};

panels.forEach((p, i) => {
  const top = panelTops[i];
  const bottom = top + panelH;
  const y = d3.scaleLinear().domain([-0.3, 0.3]).range([top, bottom]);
  const g = svg.append("g").attr("class", "panel");

  // minor y ticks (inside)
  g.selectAll(".ymin").data(y.ticks(30)).join("line")
    .attr("x1", plotLeft).attr("x2", plotLeft + 5)
    .attr("y1", d => y(d)).attr("y2", d => y(d))
    .attr("stroke", "#a0a0a0").attr("stroke-width", 1);

  const major = magTicks.filter(t => i === 2 || t < 0.25);
  g.selectAll(".ymaj").data(major).join("line")
    .attr("x1", plotLeft - 6).attr("x2", plotLeft + 5)
    .attr("y1", d => y(d)).attr("y2", d => y(d))
    .attr("stroke", "#909090").attr("stroke-width", 1.2);

  g.selectAll(".ylab").data(major).join("text")
    .attr("x", 41).attr("y", d => Math.max(y(d), 8)).attr("dy", "0.36em")
    .attr("text-anchor", "end")
    .attr("font-family", serif).attr("font-size", 17).attr("fill", "#222")
    .text(d => d.toFixed(1));

  // x ticks on the bottom edge, pointing up
  const isMajor = d => timeTicks.includes(d);
  g.selectAll(".xb").data(xMinor).join("line")
    .attr("x1", d => x(d)).attr("x2", d => x(d))
    .attr("y1", bottom).attr("y2", d => bottom - (isMajor(d) ? 9 : 5))
    .attr("stroke", "#888").attr("stroke-width", 1);
  // and on the top edge of the lower panels, pointing down
  if (i > 0) {
    g.selectAll(".xt").data(xMinor).join("line")
      .attr("x1", d => x(d)).attr("x2", d => x(d))
      .attr("y1", top).attr("y2", d => top + (isMajor(d) ? 9 : 5))
      .attr("stroke", "#888").attr("stroke-width", 1);
  }

  // data
  p.series.forEach(([name, rows, shape]) => {
    const pts = toPoints(rows);
    const path = shape === "d" ? markPath.d : (name === "red" ? markPath.big : markPath.x);
    g.append("g").selectAll("path").data(pts).join("path")
      .attr("d", path)
      .attr("transform", d => `translate(${x(d[0]).toFixed(1)},${y(d[1]).toFixed(1)})`)
      .attr("fill", "none")
      .attr("stroke", colors[name])
      .attr("stroke-width", shape === "d" ? 1.15 : (name === "red" ? 1.7 : 1.4));
  });

  // error bars
  const eg = g.append("g");
  p.errs.forEach(([name, t, m, e]) => {
    const cx = x(t);
    const col = errColors[name];
    eg.append("line").attr("x1", cx).attr("x2", cx)
      .attr("y1", y(m - e)).attr("y2", y(m + e))
      .attr("stroke", col).attr("stroke-width", 1.6);
    [m - e, m + e].forEach(v => {
      eg.append("line").attr("x1", cx - 3.5).attr("x2", cx + 3.5)
        .attr("y1", y(v)).attr("y2", y(v))
        .attr("stroke", col).attr("stroke-width", 1.6);
    });
  });

  // panel letter
  g.append("text")
    .attr("x", plotRight - 4).attr("y", top + 79)
    .attr("text-anchor", "end")
    .attr("font-family", "Lato, 'DejaVu Sans', sans-serif")
    .attr("font-size", 80).attr("fill", "#000")
    .text(panelLetters[i]);

  // bottom edge of the panel
  g.append("line")
    .attr("x1", plotLeft).attr("x2", plotRight)
    .attr("y1", bottom).attr("y2", bottom)
    .attr("stroke", "#111").attr("stroke-width", 1.6);
});

// frame: grey top and right, black left axis
svg.append("line")
  .attr("x1", plotLeft).attr("x2", plotRight)
  .attr("y1", panelTops[0]).attr("y2", panelTops[0])
  .attr("stroke", "#777").attr("stroke-width", 1.6);
svg.append("line")
  .attr("x1", plotRight).attr("x2", plotRight)
  .attr("y1", panelTops[0]).attr("y2", panelTops[2] + panelH)
  .attr("stroke", "#777").attr("stroke-width", 1.6);
svg.append("line")
  .attr("x1", plotLeft).attr("x2", plotLeft)
  .attr("y1", panelTops[0]).attr("y2", panelTops[2] + panelH)
  .attr("stroke", "#111").attr("stroke-width", 1.4);

// time labels under the last panel
const axisBottom = panelTops[2] + panelH;
svg.append("g").selectAll("text").data(timeTicks).join("text")
  .attr("x", d => x(d)).attr("y", axisBottom + 30)
  .attr("text-anchor", "middle")
  .attr("font-family", serif).attr("font-size", 17).attr("fill", "#222")
  .text(d => d);

svg.append("text")
  .attr("x", (plotLeft + plotRight) / 2).attr("y", axisBottom + 58)
  .attr("text-anchor", "middle")
  .attr("font-family", serif).attr("font-size", 21).attr("font-weight", "bold")
  .attr("fill", "#222")
  .text("Barycenteric Modified Julian Date (second)");

svg.append("text")
  .attr("transform", `translate(19,${panelTops[1] + panelH / 2}) rotate(-90)`)
  .attr("text-anchor", "middle")
  .attr("font-family", serif).attr("font-size", 21).attr("font-weight", "bold")
  .attr("fill", "#222")
  .text("Normalized Magnitude");
</script>
</body>
</html>
